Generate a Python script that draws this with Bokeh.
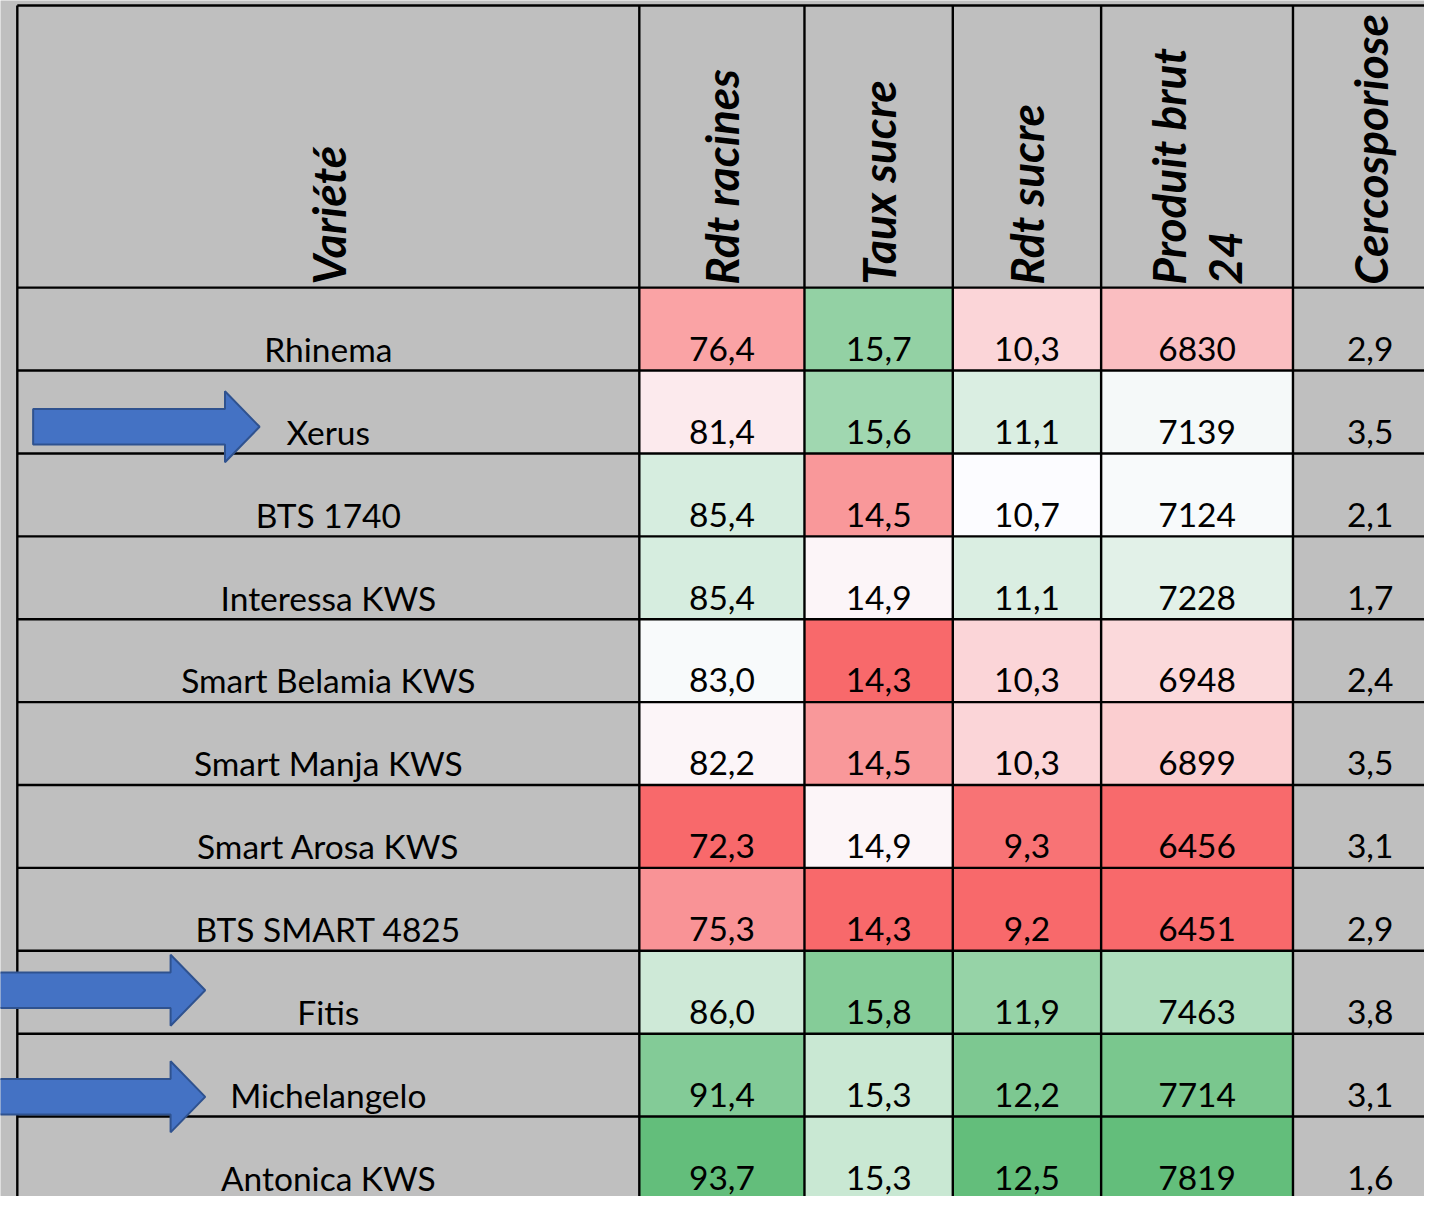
from math import pi
from bokeh.plotting import figure
from bokeh.models import Range1d
from bokeh.core.properties import value
from bokeh.embed import file_html
from bokeh.resources import INLINE

# ---------------- data ----------------
varietes = ["Rhinema", "Xerus", "BTS 1740", "Interessa KWS", "Smart Belamia KWS",
            "Smart Manja KWS", "Smart Arosa KWS", "BTS SMART 4825", "Fitis",
            "Michelangelo", "Antonica KWS"]
headers = ["Variété", "Rdt racines", "Taux sucre", "Rdt sucre", "Produit brut\n24", "Cercosporiose"]
rdt_racines = [76.4, 81.4, 85.4, 85.4, 83.0, 82.2, 72.3, 75.3, 86.0, 91.4, 93.7]
taux_sucre = [15.7, 15.6, 14.5, 14.9, 14.3, 14.5, 14.9, 14.3, 15.8, 15.3, 15.3]
rdt_sucre = [10.3, 11.1, 10.7, 11.1, 10.3, 10.3, 9.3, 9.2, 11.9, 12.2, 12.5]
produit_brut = [6830, 7139, 7124, 7228, 6948, 6899, 6456, 6451, 7463, 7714, 7819]
cercosporiose = [2.9, 3.5, 2.1, 1.7, 2.4, 3.5, 3.1, 2.9, 3.8, 3.1, 1.6]
highlighted = ["Xerus", "Fitis", "Michelangelo"]

# colour-scale anchors (min, mid, max) for the 3-colour conditional formatting
scale_anchors = [(72.3, 82.7, 93.7), (14.3, 14.93, 16.05), (9.2, 10.7, 12.5), (6451, 7105, 7819), None]

# ---------------- layout / style ----------------
BG = "#BFBFBF"
RED = (248, 105, 107)
WHITE = (252, 252, 255)
GREEN = (99, 190, 123)
COL_EDGES = [17, 646, 813, 963, 1113, 1307, 1463]
TOP = 5
HEAD_BOTTOM = 291
ROW_H = 84
FONT = value("Lato")


def mix(c1, c2, f):
    f = max(0.0, min(1.0, f))
    return "#%02x%02x%02x" % tuple(int(round(a + (b - a) * f)) for a, b in zip(c1, c2))


def scale_color(v, anchors):
    lo, mid, hi = anchors
    if v <= mid:
        return mix(WHITE, RED, (mid - v) / (mid - lo))
    return mix(WHITE, GREEN, (v - mid) / (hi - mid))


def fmt(v, dec):
    return (f"{v:.{dec}f}").replace(".", ",")


columns = [(rdt_racines, 1), (taux_sucre, 1), (rdt_sucre, 1), (produit_brut, 0), (cercosporiose, 1)]
n = len(varietes)
row_top = [HEAD_BOTTOM + ROW_H * i for i in range(n)]
row_bot = [t + ROW_H for t in row_top]

p = figure(width=1424, height=1196, x_range=Range1d(0, 1440), y_range=Range1d(1212, 0),
           output_backend="svg", toolbar_location=None,
           x_axis_location=None, y_axis_location=None, min_border=0)
p.grid.visible = False
p.outline_line_color = None
p.background_fill_color = BG
p.border_fill_color = BG

# coloured cells
cl, cr, ct, cb, cc = [], [], [], [], []
for j, ((vals, dec), anchors) in enumerate(zip(columns, scale_anchors)):
    if anchors is None:
        continue
    for i, v in enumerate(vals):
        cl.append(COL_EDGES[j + 1]); cr.append(COL_EDGES[j + 2])
        ct.append(row_top[i]); cb.append(row_bot[i])
        cc.append(scale_color(v, anchors))
p.quad(left=cl, right=cr, top=ct, bottom=cb, fill_color=cc, line_color=None)

# grid lines
bottom_y = row_bot[-1] + 40
hx0 = [COL_EDGES[0]] * (n + 2)
hx1 = [COL_EDGES[-1]] * (n + 2)
hy = [TOP, HEAD_BOTTOM] + row_bot
p.segment(x0=hx0, y0=hy, x1=hx1, y1=hy, line_color="black", line_width=2.4)
vx = COL_EDGES
p.segment(x0=vx, y0=[TOP] * len(vx), x1=vx, y1=[bottom_y] * len(vx), line_color="black", line_width=2.4)

# variety labels
centers = [(COL_EDGES[k] + COL_EDGES[k + 1]) / 2 for k in range(len(COL_EDGES) - 1)]
p.text(x=[centers[0]] * n, y=[b - 22 for b in row_bot], text=varietes,
       text_font=FONT, text_font_size="33.5px", text_align="center",
       text_baseline="alphabetic", text_color="black")

# values
vx_, vy_, vt_ = [], [], []
for j, (vals, dec) in enumerate(columns):
    for i, v in enumerate(vals):
        vx_.append(centers[j + 1]); vy_.append(row_bot[i] - 22); vt_.append(fmt(v, dec))
p.text(x=vx_, y=vy_, text=vt_, text_font=FONT, text_font_size="33.5px",
       text_align="center", text_baseline="alphabetic", text_color="black")

# rotated headers
hx_, hy_, ht_ = [], [], []
spacing = 57
for k, h in enumerate(headers):
    lines = h.split("\n")
    for li, line in enumerate(lines):
        off = (li - (len(lines) - 1) / 2) * spacing
        hx_.append(centers[k] + off); hy_.append(HEAD_BOTTOM - 3); ht_.append(line)
p.text(x=hx_, y=hy_, text=ht_, angle=pi / 2, text_font=FONT, text_font_size="46px",
       text_font_style="bold italic", text_align="left", text_baseline="middle",
       text_color="black")

# arrows pointing at highlighted varieties: (tail x, tip x, vertical offset from row centre)
arrow_geom = {"Xerus": (33, 262, 15), "Fitis": (-10, 207, -2), "Michelangelo": (-10, 207, 22)}
axs, ays = [], []
for name in highlighted:
    i = varietes.index(name)
    x0, tip, dy = arrow_geom[name]
    cy = (row_top[i] + row_bot[i]) / 2 + dy
    base = tip - 35
    axs.append([x0, base, base, tip, base, base, x0])
    ays.append([cy - 18, cy - 18, cy - 36, cy, cy + 36, cy + 18, cy + 18])
p.patches(xs=axs, ys=ays, fill_color="#4472C4", line_color="#2F528F", line_width=2)

open("out.html", "w").write(file_html(p, INLINE))
